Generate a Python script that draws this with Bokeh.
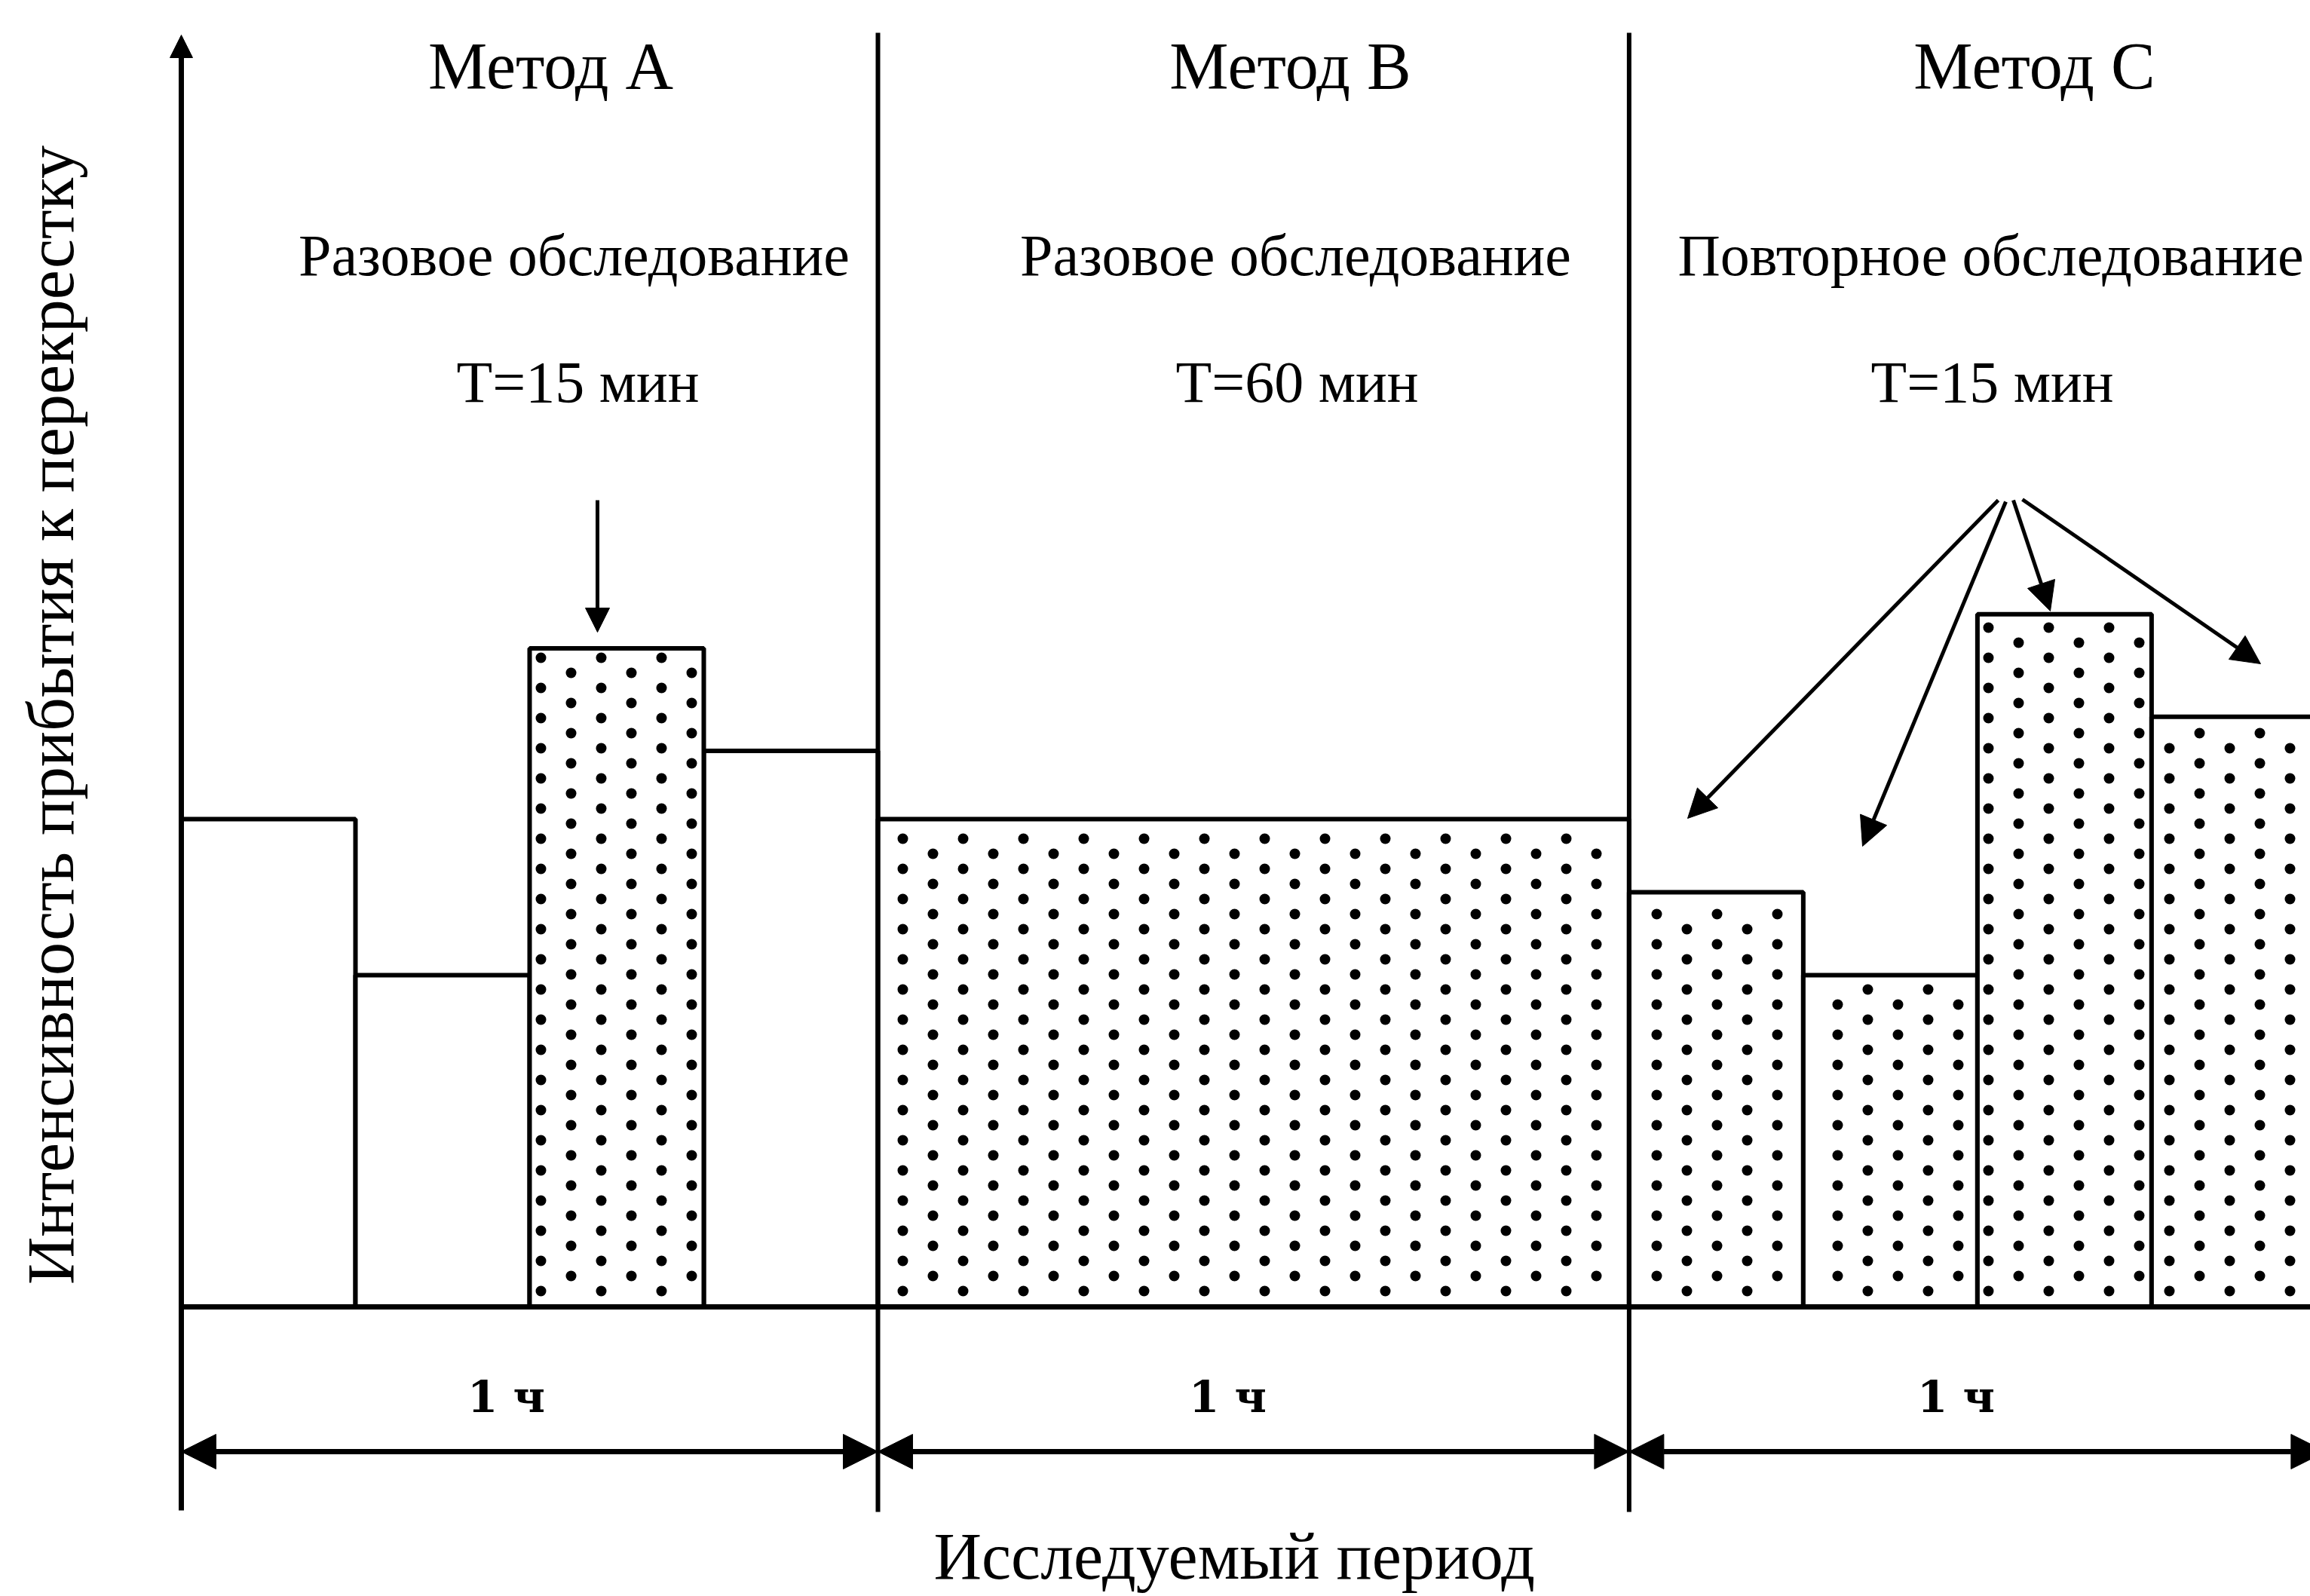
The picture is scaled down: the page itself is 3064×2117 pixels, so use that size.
import math
from bokeh.plotting import figure
from bokeh.models import Range1d, Arrow, NormalHead, ColumnDataSource
from bokeh.core.properties import value
from bokeh.embed import file_html
from bokeh.resources import INLINE

# ---------------- data ----------------
methods = ["Метод A", "Метод B", "Метод C"]
survey_types = ["Разовое обследование", "Разовое обследование", "Повторное обследование"]
interval_labels = ["T=15 мин", "T=60 мин", "T=15 мин"]
period_label = "1 ч"
y_label = "Интенсивность прибытия к перекрестку"
x_label = "Исследуемый период"

# section bounds along the time axis as drawn (min)
section_start = [0.0, 60.0, 124.7]
section_end = [60.0, 124.7, 184.7]

# bars: left / right edges (min), arrival intensity (relative units)
bar_left = [0.0, 15.0, 30.0, 45.0, 60.0, 124.7, 139.7, 154.7, 169.7]
bar_right = [15.0, 30.0, 45.0, 60.0, 124.7, 139.7, 154.7, 169.7, 184.7]
intensity = [100, 68, 135, 114, 100, 85, 68, 142, 121]
surveyed = [False, False, True, False, True, True, True, True, True]

# ---------------- layout ----------------
W, H = 3064, 2117
PPM = 15.4      # px per minute
PPU = 6.47      # px per intensity unit
X0 = 240        # px of t = 0
Y0 = 1733       # px of baseline


def fx(px):
    return (px - X0) / PPM


def fy(py):
    return (Y0 - py) / PPU


def shift(F):
    # distance between the text anchor and the drawn baseline
    return 0.34 * F


p = figure(width=W, height=H, output_backend="svg", toolbar_location=None,
           x_range=Range1d(fx(0), fx(W)), y_range=Range1d(fy(H), fy(0)),
           x_axis_location=None, y_axis_location=None, min_border=0,
           outline_line_color=None, background_fill_color="white",
           border_fill_color="white")
p.grid.visible = False

plain = ColumnDataSource(dict(
    left=[l for l, s in zip(bar_left, surveyed) if not s],
    right=[r for r, s in zip(bar_right, surveyed) if not s],
    top=[v for v, s in zip(intensity, surveyed) if not s]))
dotted = ColumnDataSource(dict(
    left=[l for l, s in zip(bar_left, surveyed) if s],
    right=[r for r, s in zip(bar_right, surveyed) if s],
    top=[v for v, s in zip(intensity, surveyed) if s]))

p.quad(left="left", right="right", bottom=0, top="top", source=plain,
       fill_color="white", line_color="black", line_width=6)
p.quad(left="left", right="right", bottom=0, top="top", source=dotted,
       fill_color="white", line_color="black", line_width=6)

# stippled texture of the surveyed bars: staggered dot lattice (40 px pitch)
dot_x, dot_y = [], []
PITCH = 40
for l, r, t in zip(dotted.data["left"], dotted.data["right"], dotted.data["top"]):
    x_lo, x_hi = X0 + l * PPM + 9, X0 + r * PPM - 7
    y_top, y_bot = Y0 - t * PPU + 12, Y0 - 10
    k = math.ceil((x_lo - 717) / PITCH)
    while 717 + k * PITCH <= x_hi:
        cx = 717 + k * PITCH
        off = 20 if k % 2 else 0
        j = math.ceil((y_top - 1032 - off) / PITCH)
        while 1032 + off + j * PITCH <= y_bot:
            dot_x.append(fx(cx))
            dot_y.append(fy(1032 + off + j * PITCH))
            j += 1
        k += 1
p.scatter(x=dot_x, y=dot_y, marker="circle", size=14, fill_color="black", line_color=None)

# baseline
p.segment(x0=[0], y0=[0], x1=[fx(3100)], y1=[0], line_color="black", line_width=7)

# dividers between methods
p.segment(x0=section_end[:-1], y0=[fy(2005)] * 2, x1=section_end[:-1], y1=[fy(43)] * 2,
          line_color="black", line_width=6)


def head(size):
    return NormalHead(size=size, fill_color="black", line_color="black", line_width=1)


# y axis with arrow
p.add_layout(Arrow(x_start=0, y_start=fy(2003), x_end=0, y_end=fy(46),
                   line_width=7, line_color="black", end=head(30)))

# period arrows (1 hour)
y_row = fy(1925)
for s, e in zip(section_start, section_end):
    p.add_layout(Arrow(x_start=s, y_start=y_row, x_end=e, y_end=y_row,
                       line_width=7, line_color="black",
                       start=head(46), end=head(46)))

# pointer in method A
p.add_layout(Arrow(x_start=fx(792), y_start=fy(663), x_end=fx(792), y_end=fy(838),
                   line_width=5, line_color="black", end=head(32)))

# pointers in method C
c_starts = [(2650, 663), (2660, 665), (2670, 663), (2682, 662)]
c_tips = [(2238, 1085), (2470, 1122), (2719, 810), (2998, 880)]
for (sx, sy), (ex, ey) in zip(c_starts, c_tips):
    p.add_layout(Arrow(x_start=fx(sx), y_start=fy(sy), x_end=fx(ex), y_end=fy(ey),
                       line_width=5, line_color="black", end=head(38)))

serif = value("Liberation Serif")

# titles
p.text(x=[fx(730), fx(1711), fx(2698)], y=[fy(117 - shift(88))] * 3, text=methods,
       text_font=serif, text_font_size=value("88px"), text_color="black",
       text_align="center", text_baseline="alphabetic")
p.text(x=[fx(761), fx(1718), fx(2640)], y=[fy(365 - shift(78))] * 3, text=survey_types,
       text_font=serif, text_font_size=value("78px"), text_color="black",
       text_align="center", text_baseline="alphabetic")
p.text(x=[fx(766), fx(1720), fx(2642)], y=[fy(533 - shift(78))] * 3, text=interval_labels,
       text_font=serif, text_font_size=value("78px"), text_color="black",
       text_align="center", text_baseline="alphabetic")

# period labels
p.text(x=[fx(671), fx(1628), fx(2594)], y=[fy(1872 - shift(58))] * 3, text=[period_label] * 3,
       text_font=value("DejaVu Serif"), text_font_size=value("58px"), text_font_style="bold",
       text_color="black", text_align="center", text_baseline="alphabetic")

# axis labels
p.text(x=[fx(1238)], y=[fy(2094 - shift(88))], text=[x_label],
       text_font=serif, text_font_size=value("88px"), text_color="black",
       text_align="left", text_baseline="alphabetic")
p.text(x=[fx(97 - shift(88))], y=[fy(948)], text=[y_label], angle=math.pi / 2,
       text_font=serif, text_font_size=value("88px"), text_color="black",
       text_align="center", text_baseline="alphabetic")

open("out.html", "w").write(file_html(p, INLINE))
